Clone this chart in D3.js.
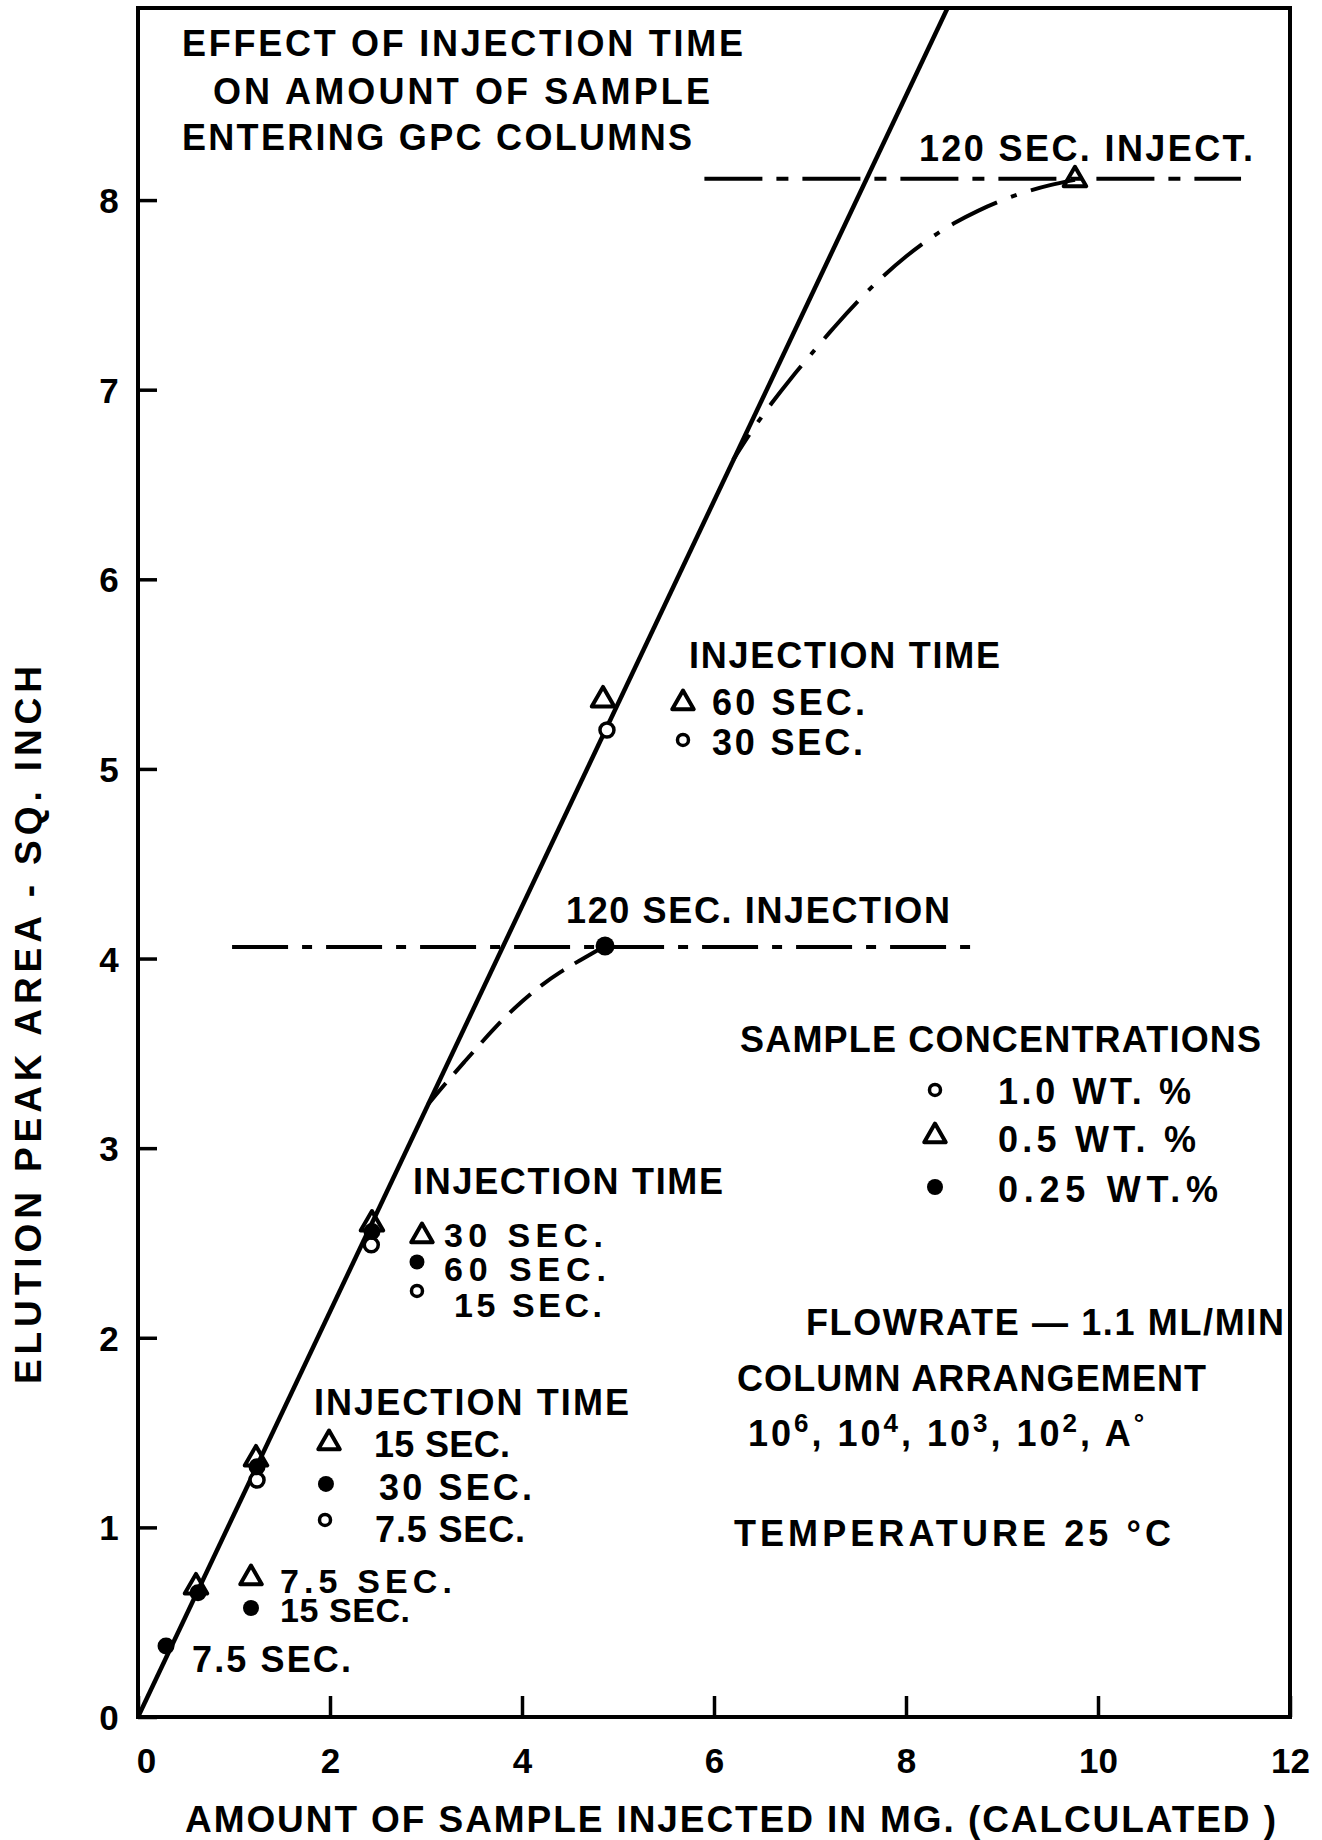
<!DOCTYPE html>
<html><head><meta charset="utf-8">
<script src="https://cdn.jsdelivr.net/npm/d3@7"></script>
<style>
html,body{margin:0;padding:0;background:#fff;}
svg{display:block;background:#fff;}
text{font-family:"Liberation Sans",Arial,sans-serif;font-weight:bold;fill:#000;}
</style></head><body>
<svg id="chart" width="1322" height="1840"></svg>
<script>
// ---------------- data ----------------
const xTicks = [0, 2, 4, 6, 8, 10, 12];
const yTicks = [0, 1, 2, 3, 4, 5, 6, 7, 8];
const xTitle = "AMOUNT OF SAMPLE INJECTED IN MG. (CALCULATED )";
const yTitle = "ELUTION PEAK AREA  -  SQ. INCH";

// 1.0 wt.% (open circles)
const openX = [1.24, 2.43, 4.885];
const openY = [1.25, 2.49, 5.205];
// 0.5 wt.% (open triangles)
const triX = [0.604, 1.229, 2.437, 4.844, 9.76];
const triY = [0.686, 1.361, 2.600, 5.364, 8.107];
// 0.25 wt.% (filled circles)
const dotX = [0.292, 0.625, 1.24, 2.437, 4.865];
const dotY = [0.374, 0.655, 1.32, 2.56, 4.066];

// straight line through the points
const fitX = [0, 8.43];
const fitY = [0, 9.01];

// 120 s injection curves
const upperCurveX = [6.20, 6.40, 6.60, 6.80, 7.00, 7.25, 7.50, 7.75, 8.00, 8.25, 8.50, 8.75, 9.00, 9.25, 9.50, 9.76];
const upperCurveY = [6.63, 6.79, 6.93, 7.06, 7.18, 7.33, 7.47, 7.595, 7.705, 7.80, 7.88, 7.945, 8.00, 8.045, 8.08, 8.107];
const lowerCurveX = [3.02, 3.20, 3.40, 3.60, 3.80, 4.00, 4.20, 4.40, 4.60, 4.865];
const lowerCurveY = [3.23, 3.34, 3.455, 3.57, 3.68, 3.775, 3.86, 3.93, 3.99, 4.066];

// plateau (dash-dot) lines
const upperPlateauX = [5.90, 11.49];
const upperPlateauY = [8.112, 8.112];
const lowerPlateauX = [0.98, 8.73];
const lowerPlateauY = [4.061, 4.061];

// text
const titleLines = ["EFFECT OF INJECTION TIME", "ON AMOUNT OF SAMPLE", "ENTERING GPC COLUMNS"];
const upperNote = "120 SEC. INJECT.";
const lowerNote = "120 SEC. INJECTION";
const injTime = "INJECTION TIME";
const legendHigh = ["60 SEC.", "30 SEC."];
const legendMid = ["30 SEC.", "60 SEC.", "15 SEC."];
const legendLow = ["15 SEC.", "30 SEC.", "7.5 SEC."];
const legendLowest = ["7.5 SEC.", "15 SEC.", "7.5 SEC."];
const concTitle = "SAMPLE CONCENTRATIONS";
const concLabels = ["1.0 WT. %", "0.5 WT. %", "0.25 WT.%"];
const conditions = ["FLOWRATE \u2014 1.1 ML/MIN", "COLUMN ARRANGEMENT", "TEMPERATURE  25 \u00B0C"];
const columnBases = ["10", ", 10", ", 10", ", 10", ", A"];
const columnExps = ["6", "4", "3", "2", "\u00B0"];

// ---------------- layout ----------------
const svg = d3.select("#chart");
const W = 1322, H = 1840;
const x = d3.scaleLinear().domain([0, 12]).range([138, 1290]);
const y = d3.scaleLinear().domain([0, 9.013]).range([1717, 8]);
const FONT = "'Liberation Sans',Arial,sans-serif";

svg.append("rect").attr("width", W).attr("height", H).attr("fill", "#fff");

svg.append("defs").append("clipPath").attr("id", "plotclip")
  .append("rect").attr("x", x(0)).attr("y", y(9.013)).attr("width", x(12) - x(0)).attr("height", y(0) - y(9.013));

// axes
const yAxis = d3.axisLeft(y).tickValues(yTicks).tickSize(-19).tickFormat(d3.format("d"));
const gy = svg.append("g").attr("transform", `translate(${x(0)},0)`).call(yAxis);
gy.select(".domain").remove();
gy.selectAll(".tick line").attr("stroke", "#000").attr("stroke-width", 3.5);
gy.selectAll(".tick text").attr("x", -29).attr("dy", "0.36em").attr("text-anchor", "middle")
  .style("font-size", "35px").style("font-family", FONT).style("font-weight", "bold");

const xAxis = d3.axisBottom(x).tickValues(xTicks).tickSize(-21).tickFormat(d3.format("d"));
const gx = svg.append("g").attr("transform", `translate(0,${y(0)})`).call(xAxis);
gx.select(".domain").remove();
gx.selectAll(".tick line").attr("stroke", "#000").attr("stroke-width", 3.5);
gx.selectAll(".tick text").attr("y", 43).attr("dy", "0.36em").attr("dx", d => d === 0 ? 8 : 0)
  .style("font-size", "35px").style("font-family", FONT).style("font-weight", "bold");

// frame
svg.append("rect")
  .attr("x", x(0)).attr("y", y(9.013))
  .attr("width", x(12) - x(0)).attr("height", y(0) - y(9.013))
  .attr("fill", "none").attr("stroke", "#000").attr("stroke-width", 4);

// axis titles
svg.append("text").attr("x", 185).attr("y", 1832)
  .attr("textLength", 1091).attr("lengthAdjust", "spacing")
  .style("font-size", "37px").text(xTitle);
svg.append("text").attr("transform", "translate(41,1025) rotate(-90)")
  .attr("text-anchor", "middle").attr("textLength", 718).attr("lengthAdjust", "spacing")
  .style("font-size", "37px").text(yTitle);

// lines
const plot = svg.append("g").attr("clip-path", "url(#plotclip)");
const pts = (xs, ys) => xs.map((v, i) => [v, ys[i]]);
const line = d3.line().x(d => x(d[0])).y(d => y(d[1]));
const smooth = d3.line().x(d => x(d[0])).y(d => y(d[1])).curve(d3.curveBasis);

plot.append("path").attr("d", line(pts(fitX, fitY)))
  .attr("fill", "none").attr("stroke", "#000").attr("stroke-width", 4.5);

plot.append("path").attr("d", line(pts(upperPlateauX, upperPlateauY)))
  .attr("fill", "none").attr("stroke", "#000").attr("stroke-width", 4)
  .attr("stroke-dasharray", "58,14,12,14");
plot.append("path").attr("d", line(pts(lowerPlateauX, lowerPlateauY)))
  .attr("fill", "none").attr("stroke", "#000").attr("stroke-width", 4)
  .attr("stroke-dasharray", "56,14,10,14");

plot.append("path").attr("d", smooth(pts(upperCurveX, upperCurveY)))
  .attr("fill", "none").attr("stroke", "#000").attr("stroke-width", 4)
  .attr("stroke-dasharray", "50,15,6,15").attr("stroke-dashoffset", 20);
plot.append("path").attr("d", smooth(pts(lowerCurveX, lowerCurveY)))
  .attr("fill", "none").attr("stroke", "#000").attr("stroke-width", 4)
  .attr("stroke-dasharray", "28,13");

// markers
const triPath = size => d3.symbol().type(d3.symbolTriangle).size(size)();
function dot(g, xv, yv, r) {
  g.append("circle").attr("cx", x(xv)).attr("cy", y(yv)).attr("r", r).attr("fill", "#000");
}
function ring(g, xv, yv, r) {
  g.append("circle").attr("cx", x(xv)).attr("cy", y(yv)).attr("r", r)
    .attr("fill", "#fff").attr("stroke", "#000").attr("stroke-width", 3.5);
}
function tri(g, xv, yv, size) {
  g.append("path").attr("d", triPath(size)).attr("transform", `translate(${x(xv)},${y(yv)})`)
    .attr("fill", "none").attr("stroke", "#000").attr("stroke-width", 4).attr("stroke-linejoin", "round");
}
const marks = svg.append("g");
openX.forEach((v, i) => ring(marks, v, openY[i], 7));
dotX.forEach((v, i) => dot(marks, v, dotY[i], i === 4 ? 9.5 : 8.5));
triX.forEach((v, i) => tri(marks, v, triY[i], 220));

// annotation text
const ann = svg.append("g");
function label(str, xv, yv, len, size) {
  return ann.append("text").attr("x", x(xv)).attr("y", y(yv))
    .attr("textLength", len).attr("lengthAdjust", "spacing")
    .style("font-size", (size || 36) + "px").text(str);
}
label(titleLines[0], 0.458, 8.760, 561);
label(titleLines[1], 0.781, 8.507, 497);
label(titleLines[2], 0.458, 8.265, 510);
label(upperNote, 8.135, 8.207, 334);

label(injTime, 5.74, 5.533, 311);
tri(ann, 5.677, 5.348, 200); label(legendHigh[0], 5.979, 5.285, 153);
ring(ann, 5.677, 5.153, 5.5); label(legendHigh[1], 5.979, 5.074, 151);

label(lowerNote, 4.458, 4.188, 384);

label(concTitle, 6.271, 3.507, 521);
ring(ann, 8.302, 3.307, 5.5); label(concLabels[0], 8.958, 3.233, 193);
tri(ann, 8.302, 3.064, 200); label(concLabels[1], 8.958, 2.980, 198);
dot(ann, 8.302, 2.795, 8); label(concLabels[2], 8.958, 2.716, 220);

label(injTime, 2.865, 2.758, 310);
tri(ann, 2.958, 2.537, 200); label(legendMid[0], 3.1875, 2.479, 159, 34);
dot(ann, 2.906, 2.400, 7.5); label(legendMid[1], 3.1875, 2.300, 162, 34);
ring(ann, 2.906, 2.247, 5.5); label(legendMid[2], 3.292, 2.110, 148, 34);

label(injTime, 1.833, 1.593, 315);
tri(ann, 1.99, 1.445, 200); label(legendLow[0], 2.458, 1.371, 136);
dot(ann, 1.958, 1.229, 8); label(legendLow[1], 2.51, 1.145, 153);
ring(ann, 1.948, 1.039, 5.5); label(legendLow[2], 2.469, 0.923, 150);

tri(ann, 1.177, 0.733, 200); label(legendLowest[0], 1.479, 0.654, 172, 34);
dot(ann, 1.177, 0.575, 8); label(legendLowest[1], 1.479, 0.501, 130, 34);
label(legendLowest[2], 0.5625, 0.237, 159);

label(conditions[0], 6.958, 2.015, 478);
label(conditions[1], 6.24, 1.719, 469);
label(conditions[2], 6.208, 0.902, 437);

// column arrangement with superscripts
const colText = ann.append("text").attr("x", x(6.354)).attr("y", y(1.429))
  .style("font-size", "36px").style("letter-spacing", "3px");
columnBases.forEach((b, i) => {
  colText.append("tspan").attr("dy", i === 0 ? 0 : 14).text(b);
  colText.append("tspan").attr("dy", -14).style("font-size", "26px").text(columnExps[i]);
});
</script>
</body></html>
